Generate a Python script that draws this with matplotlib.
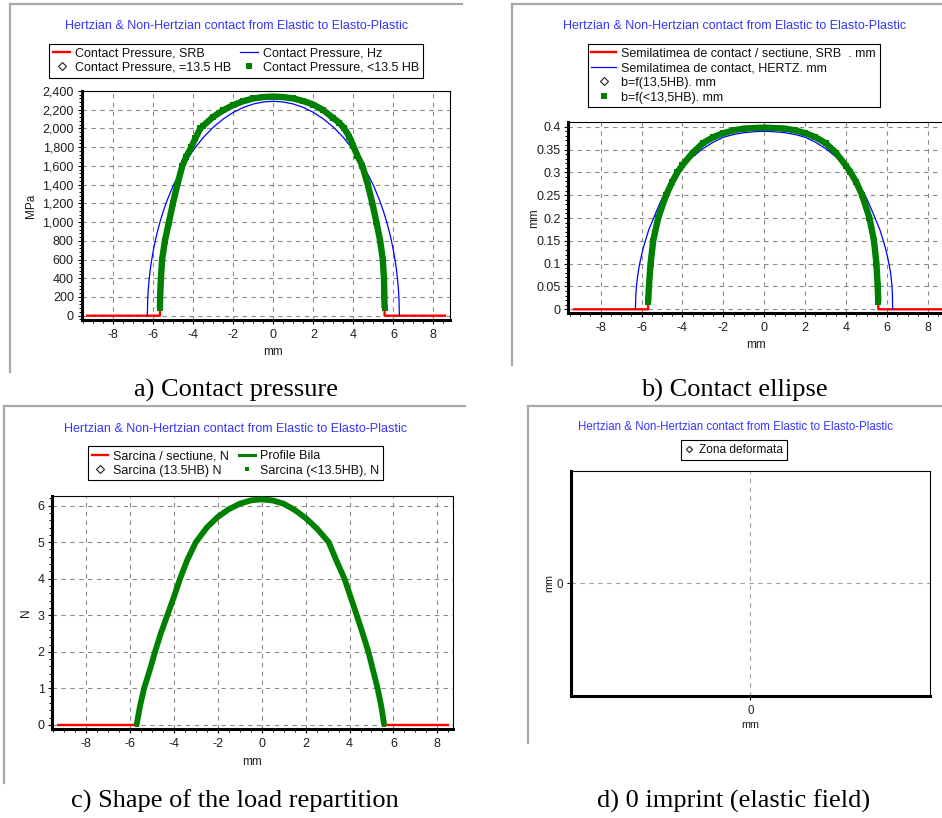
import matplotlib
matplotlib.use('Agg')
import matplotlib.pyplot as plt
from matplotlib.lines import Line2D
from matplotlib.ticker import MultipleLocator, FuncFormatter

W, H = 942, 818

TITLE = 'Hertzian & Non-Hertzian contact from Elastic to Elasto-Plastic'

# a) presiunea de contact, MPa
a_hz_x = [-6.3, -6.28, -6.25, -6.2, -6.15, -6.1, -6.0, -5.9, -5.8, -5.65, -5.5, -5.3, -5.0, -4.5, -4.0,
          -3.5, -3.0, -2.5, -2.0, -1.5, -1.0, -0.5, 0.0, 0.5, 1.0, 1.5, 2.0, 2.5, 3.0, 3.5,
          4.0, 4.5, 5.0, 5.3, 5.5, 5.65, 5.8, 5.9, 6.0, 6.1, 6.15, 6.2, 6.25, 6.28, 6.3]
a_hz_y = [0, 182, 288, 406, 497, 572, 698, 803, 894, 1013, 1117, 1238, 1393, 1603, 1769,
          1904, 2014, 2102, 2172, 2224, 2261, 2283, 2290, 2283, 2261, 2224, 2172, 2102, 2014, 1904,
          1769, 1603, 1393, 1238, 1117, 1013, 894, 803, 698, 572, 497, 406, 288, 182, 0]
a_pl_x = [-5.67, -5.66, -5.62, -5.56, -5.42, -5.22, -5.02, -4.8, -4.55, -4.35, -4.1, -3.9, -3.65, -3.5,
          -3.0, -2.5, -2.0, -1.5, -1.0, -0.5, 0.0, 0.5, 1.0, 1.5, 2.0, 2.5, 3.0, 3.3, 3.55, 3.8,
          4.0, 4.2, 4.45, 4.72, 4.95, 5.15, 5.34, 5.47, 5.53, 5.55, 5.56]
a_pl_y = [80, 200, 400, 600, 800, 1000, 1200, 1400, 1600, 1700, 1800, 1895, 2000, 2030,
          2125, 2195, 2250, 2292, 2320, 2335, 2340, 2335, 2320, 2292, 2255, 2195, 2110, 2060, 2000, 1910,
          1810, 1710, 1600, 1400, 1200, 1000, 800, 600, 400, 200, 80]
a_srb_out_x = [-9.3, 8.58]

# b) semilatimea de contact, mm
b_hz_x = [-6.3, -6.28, -6.25, -6.2, -6.15, -6.1, -6.0, -5.9, -5.8, -5.65, -5.5, -5.3, -5.0, -4.5, -4.0,
          -3.5, -3.0, -2.5, -2.0, -1.5, -1.0, -0.5, 0.0, 0.5, 1.0, 1.5, 2.0, 2.5, 3.0, 3.5,
          4.0, 4.5, 5.0, 5.3, 5.5, 5.65, 5.8, 5.9, 6.0, 6.1, 6.15, 6.2, 6.24, 6.26, 6.27]
b_hz_y = [0, 0.031, 0.05, 0.069, 0.085, 0.098, 0.119, 0.137, 0.152, 0.174, 0.190, 0.212, 0.243, 0.282, 0.312,
          0.334, 0.352, 0.366, 0.377, 0.383, 0.387, 0.389, 0.390, 0.389, 0.387, 0.383, 0.377, 0.366, 0.352, 0.334,
          0.312, 0.282, 0.243, 0.212, 0.190, 0.174, 0.152, 0.137, 0.119, 0.098, 0.085, 0.069, 0.05, 0.031, 0]
b_pl_x = [-5.68, -5.64, -5.56, -5.43, -5.19, -4.8, -4.5, -4.25, -4.0, -3.5, -3.0, -2.5, -2.0, -1.5, -1.0, -0.5, 0.0,
          0.5, 1.0, 1.5, 2.0, 2.5, 3.0, 3.5, 4.0, 4.2, 4.5, 4.78, 5.14, 5.36, 5.48, 5.54, 5.57]
b_pl_y = [0.015, 0.05, 0.10, 0.15, 0.20, 0.25, 0.279, 0.30, 0.316, 0.343, 0.364, 0.377, 0.386, 0.392, 0.396, 0.397, 0.398,
          0.397, 0.396, 0.392, 0.386, 0.377, 0.364, 0.343, 0.314, 0.301, 0.278, 0.25, 0.20, 0.15, 0.10, 0.05, 0.015]
b_srb_out_x = [-9.3, 9.0]

# c) sarcina / sectiune, N
c_pl_x = [-5.70, -5.55, -5.36, -5.1, -4.86, -4.6, -4.3, -4.0, -3.72, -3.4, -3.0, -2.5, -2.0, -1.5, -1.0, -0.5, 0.0,
          0.5, 1.0, 1.5, 2.0, 2.5, 3.05, 3.4, 3.77, 4.05, 4.33, 4.6, 4.86, 5.07, 5.28, 5.45, 5.58]
c_pl_y = [0, 0.5, 1, 1.5, 2, 2.5, 3, 3.5, 4, 4.5, 5, 5.4, 5.69, 5.9, 6.05, 6.14, 6.17,
          6.14, 6.05, 5.88, 5.66, 5.38, 5, 4.5, 4, 3.5, 3, 2.5, 2, 1.5, 1, 0.5, 0]
c_srb_out_x = [-9.27, 8.48]

RED, BLUE, GREEN = '#ff0000', '#0000ff', '#008000'
TITLE_COLOR = '#3535ff'
GRID_COLOR = '#8a8a8a'
TXT = '#1e1e1e'

plt.rcParams['font.family'] = ['Liberation Sans', 'DejaVu Sans']

fig = plt.figure(figsize=(W / 100, H / 100), dpi=100)


def px_axes(l, t, r, b):
    return fig.add_axes([l / W, 1 - b / H, (r - l) / W, (b - t) / H])


def ftext(x, y, s, **kw):
    fig.text(x / W, 1 - y / H, s, ha='center', va='center', **kw)


def frame(x0, y0, x1, y1):
    # chenarul gri al capturii (sus si stanga)
    for xs, ys in (([x0, x1], [y0, y0]), ([x0, x0], [y0, y1])):
        fig.add_artist(Line2D([v / W for v in xs], [1 - v / H for v in ys],
                              transform=fig.transFigure, color='#a8a8a8', lw=1.6))


def style_axes(ax, xlim, ylim, fs=9, grid_color=GRID_COLOR):
    ax.set_xlim(*xlim)
    ax.set_ylim(*ylim)
    for side in ('left', 'bottom'):
        ax.spines[side].set_linewidth(2.2)
    for side in ('top', 'right'):
        ax.spines[side].set_linewidth(0.8)
    ax.tick_params(which='major', direction='out', length=3, width=0.8, pad=2.5,
                   labelsize=fs, labelcolor=TXT)
    ax.tick_params(axis='x', which='major', pad=3.5)
    ax.tick_params(which='minor', direction='out', length=2, width=0.7)
    ax.grid(True, which='major', color=grid_color, lw=0.8, ls=(0, (4, 4)))
    ax.set_axisbelow(True)


def green_series(ax, xs, ys, label=None, lw=4.6):
    ax.plot(xs, ys, color=GREEN, lw=lw, solid_capstyle='butt', solid_joinstyle='round', zorder=4)
    ax.plot(xs, ys, 's', color=GREEN, ms=lw * 0.8, mew=0, label=label, zorder=4)


def srb_series(ax, out_x, xs, ys, label):
    rx = [out_x[0], xs[0]] + list(xs) + [xs[-1], out_x[1]]
    ry = [0, 0] + list(ys) + [0, 0]
    ax.plot(rx, ry, color=RED, lw=1.7, label=label, zorder=2)


def diamond(ax, label, ms=4):
    ax.plot([], [], 'D', mfc='white', mec='#202020', mew=0.8, ms=ms, ls='none', label=label)


def place_legend(ax, order, cx, cy, ncol, fs=9, **kw):
    handles, labels = ax.get_legend_handles_labels()
    lookup = dict(zip(labels, handles))
    opts = dict(frameon=True, fancybox=False, edgecolor='black', framealpha=1,
                borderpad=0.3, handletextpad=0.4, labelspacing=0.2, borderaxespad=0,
                columnspacing=0.6, numpoints=1)
    opts.update(kw)
    leg = ax.legend([lookup[k] for k in order], order, loc='center', ncol=ncol,
                    bbox_to_anchor=(cx / W, 1 - cy / H), bbox_transform=fig.transFigure,
                    prop={'size': fs}, **opts)
    leg.get_frame().set_linewidth(0.8)
    for t in leg.get_texts():
        t.set_color('#101010')
    return leg


comma = FuncFormatter(lambda v, p: f'{v:,.0f}')
plain = FuncFormatter(lambda v, p: f'{v:g}')

# ---------- a) Contact pressure ----------
frame(10, 4, 462, 372)
ax = px_axes(81.5, 91, 450, 320)
style_axes(ax, (-9.59, 8.83), (-46, 2400))
srb_series(ax, a_srb_out_x, a_pl_x, a_pl_y, 'Contact Pressure, SRB')
ax.plot(a_hz_x, a_hz_y, color=BLUE, lw=0.9, label='Contact Pressure, Hz', zorder=3)
diamond(ax, 'Contact Pressure, =13.5 HB')
green_series(ax, a_pl_x, a_pl_y, 'Contact Pressure, <13.5 HB')
ax.xaxis.set_major_locator(MultipleLocator(2))
ax.xaxis.set_minor_locator(MultipleLocator(0.5))
ax.yaxis.set_major_locator(MultipleLocator(200))
ax.yaxis.set_minor_locator(MultipleLocator(40))
ax.yaxis.set_major_formatter(comma)
ax.xaxis.set_major_formatter(plain)
place_legend(ax, ['Contact Pressure, SRB', 'Contact Pressure, =13.5 HB',
                  'Contact Pressure, Hz', 'Contact Pressure, <13.5 HB'],
             236, 60.5, 2, handlelength=1.4, columnspacing=0.7)
ftext(237, 26, TITLE, color=TITLE_COLOR, fontsize=9)
ftext(273, 352, 'mm', fontsize=8.5, color=TXT)
ftext(31, 205.5, 'MPa', fontsize=8.5, color=TXT, rotation=90)
ftext(236, 390, 'a) Contact pressure', fontsize=19, family='Liberation Serif')

# ---------- b) Contact ellipse ----------
frame(512, 4, 942, 365)
ax = px_axes(568.3, 122.3, 945, 313.3)
style_axes(ax, (-9.58, 8.83), (-0.0088, 0.4097))
srb_series(ax, b_srb_out_x, b_pl_x, b_pl_y, 'Semilatimea de contact / sectiune, SRB  . mm')
ax.plot(b_hz_x, b_hz_y, color=BLUE, lw=0.9, label='Semilatimea de contact, HERTZ. mm', zorder=3)
diamond(ax, 'b=f(13,5HB). mm')
green_series(ax, b_pl_x, b_pl_y, 'b=f(<13,5HB). mm')
ax.xaxis.set_major_locator(MultipleLocator(2))
ax.xaxis.set_minor_locator(MultipleLocator(0.5))
ax.yaxis.set_major_locator(MultipleLocator(0.05))
ax.yaxis.set_minor_locator(MultipleLocator(0.01))
ax.yaxis.set_major_formatter(plain)
ax.xaxis.set_major_formatter(plain)
place_legend(ax, ['Semilatimea de contact / sectiune, SRB  . mm', 'Semilatimea de contact, HERTZ. mm',
                  'b=f(13,5HB). mm', 'b=f(<13,5HB). mm'],
             733.8, 75.4, 1, handlelength=2.0, labelspacing=0.22)
ftext(735, 26, TITLE, color=TITLE_COLOR, fontsize=9)
ftext(756, 345, 'mm', fontsize=8.5, color=TXT)
ftext(534, 218, 'mm', fontsize=8.5, color=TXT, rotation=90)
ftext(734.5, 390, 'b) Contact ellipse', fontsize=19, family='Liberation Serif')

# ---------- c) Shape of the load repartition ----------
frame(4, 405.7, 465, 782.7)
ax = px_axes(52.3, 495.7, 452.7, 729.3)
style_axes(ax, (-9.54, 8.7), (-0.118, 6.27))
srb_series(ax, c_srb_out_x, c_pl_x, c_pl_y, 'Sarcina / sectiune, N')
ax.plot([], [], color=GREEN, lw=2.2, label='Profile Bila')
diamond(ax, 'Sarcina (13.5HB) N')
green_series(ax, c_pl_x, c_pl_y, 'Sarcina (<13.5HB), N', lw=4.2)
ax.xaxis.set_major_locator(MultipleLocator(2))
ax.xaxis.set_minor_locator(MultipleLocator(0.5))
ax.yaxis.set_major_locator(MultipleLocator(1))
ax.yaxis.set_minor_locator(MultipleLocator(0.2))
ax.yaxis.set_major_formatter(plain)
ax.xaxis.set_major_formatter(plain)
place_legend(ax, ['Sarcina / sectiune, N', 'Sarcina (13.5HB) N',
                  'Profile Bila', 'Sarcina (<13.5HB), N'],
             235.3, 463.3, 2, handlelength=1.3, columnspacing=0.8)
ftext(236, 429.3, TITLE, color=TITLE_COLOR, fontsize=9)
ftext(252.5, 762.3, 'mm', fontsize=8.5, color=TXT)
ftext(26, 613, 'N', fontsize=8.5, color=TXT, rotation=90)
ftext(235, 801.7, 'c) Shape of the load repartition', fontsize=19, family='Liberation Serif')

# ---------- d) 0 imprint (elastic field) ----------
frame(528.3, 405.7, 942, 743.3)
ax = px_axes(570.7, 470.7, 930, 695.7)
style_axes(ax, (-1, 1), (-1, 1), fs=8.3, grid_color='#a0a0a0')
ax.set_xticks([0])
ax.set_yticks([0])
ax.xaxis.set_major_formatter(plain)
ax.yaxis.set_major_formatter(plain)
diamond(ax, 'Zona deformata', ms=3.2)
place_legend(ax, ['Zona deformata'], 734, 450, 1, fs=8.6, handlelength=0.7,
             handletextpad=0.5, borderpad=0.35)
ftext(735, 426.7, TITLE, color=TITLE_COLOR, fontsize=8.3)
ftext(750, 725, 'mm', fontsize=7.8, color=TXT)
ftext(549, 583.3, 'mm', fontsize=7.8, color=TXT, rotation=90)
ftext(733.3, 801.7, 'd) 0 imprint (elastic field)', fontsize=19, family='Liberation Serif')

fig.savefig('out.png', dpi=100)
